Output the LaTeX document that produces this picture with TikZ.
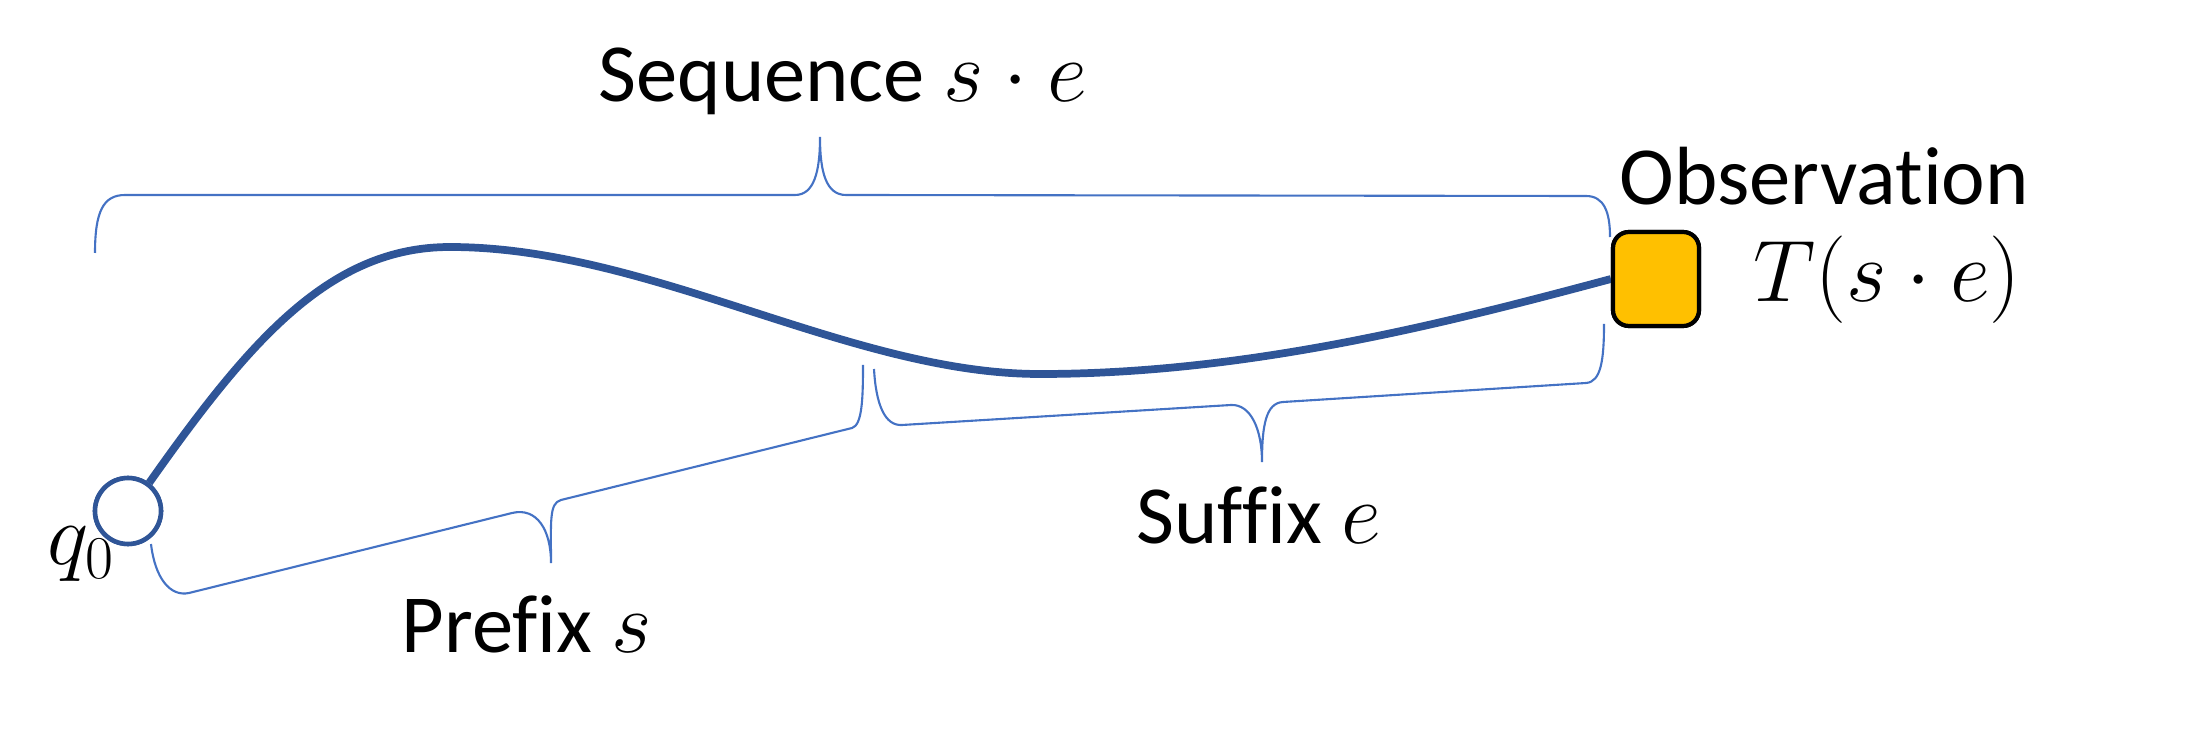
\documentclass[tikz,border=0pt]{standalone}
\usepackage{fontspec}
\setmainfont{Carlito}[Ligatures=NoCommon]
\definecolor{curveblue}{HTML}{2F5597}
\definecolor{braceblue}{HTML}{4472C4}
\definecolor{obsfill}{HTML}{FFC000}
\tikzset{
  bracepath/.style={draw=braceblue, line width=0.6pt},
  labeltext/.style={font=\fontsize{23.5}{28}\selectfont, inner sep=0pt, anchor=base west},
  startstate/.style={circle, draw=curveblue, fill=white, line width=1.3pt, minimum size=6.6mm, inner sep=0pt},
  obsbox/.style={rectangle, rounded corners=1.6mm, draw=black, fill=obsfill, line width=1.2pt, minimum width=8.6mm, minimum height=9.4mm, inner sep=0pt},
  trace/.style={draw=curveblue, line width=2.2pt}
}
\begin{document}
\begin{tikzpicture}[x=0.1mm,y=-0.1mm]
\path[use as bounding box] (0,0) rectangle (2186,733);
% states
\node[startstate] (q0) at (128,511) {};
\node[obsbox] (obs) at (1656,279) {};
% trace curve
\draw[trace] (q0.53) .. controls (250,340) and (330,247) .. (450,247)
  .. controls (650,247) and (850,374) .. (1040,374)
  .. controls (1250,374) and (1450,322) .. (obs.west);
\node[startstate] at (q0.center) {};
\node[obsbox] at (obs.center) {};
% braces
\coordinate (seqL) at (95,253);
\coordinate (seqR) at (1610,237);
\coordinate (seqTip) at (820,137);
\path[bracepath] (seqL) .. controls (95,212) and (103,195) .. (125,195) -- (795,195)
  .. controls (814,195) and (820,172) .. (seqTip)
  .. controls (820,172) and (826,195) .. (846,195) -- (1586,196)
  .. controls (1604,196) and (1610,212) .. (seqR);
\coordinate (preL) at (151,544);
\coordinate (preR) at (863,365);
\coordinate (preTip) at (551,563);
\path[bracepath] (preL) .. controls (155,578) and (170,597) .. (189,593) -- (512,513)
  .. controls (537,507) and (551,530) .. (preTip)
  .. controls (551,522) and (549,503) .. (561,500) -- (852,428)
  .. controls (862,425) and (863,400) .. (preR);
\coordinate (sufL) at (874,369);
\coordinate (sufR) at (1604,324);
\coordinate (sufTip) at (1262,462);
\path[bracepath] (sufL) .. controls (876,405) and (885,426) .. (902,425) -- (1231,405)
  .. controls (1251,404) and (1262,430) .. (sufTip)
  .. controls (1262,425) and (1266,403) .. (1283,402) -- (1586,383)
  .. controls (1601,382) and (1604,360) .. (sufR);
% labels
\node[labeltext] (seqlabel) at (598,102) {Sequence $s\cdot e$};
\node[labeltext] (prelabel) at (401,652) {Prefix $s$};
\node[labeltext] (suflabel) at (1136,544) {Suffix $e$};
\node[labeltext] (obslabel) at (1619,205) {Observation};
\node[labeltext] (tlabel) at (1753,302) {$T(s\cdot e)$};
\node[labeltext, font=\fontsize{26}{30}\selectfont] (q0label) at (47,565) {$q_0$};
\end{tikzpicture}
\end{document}
